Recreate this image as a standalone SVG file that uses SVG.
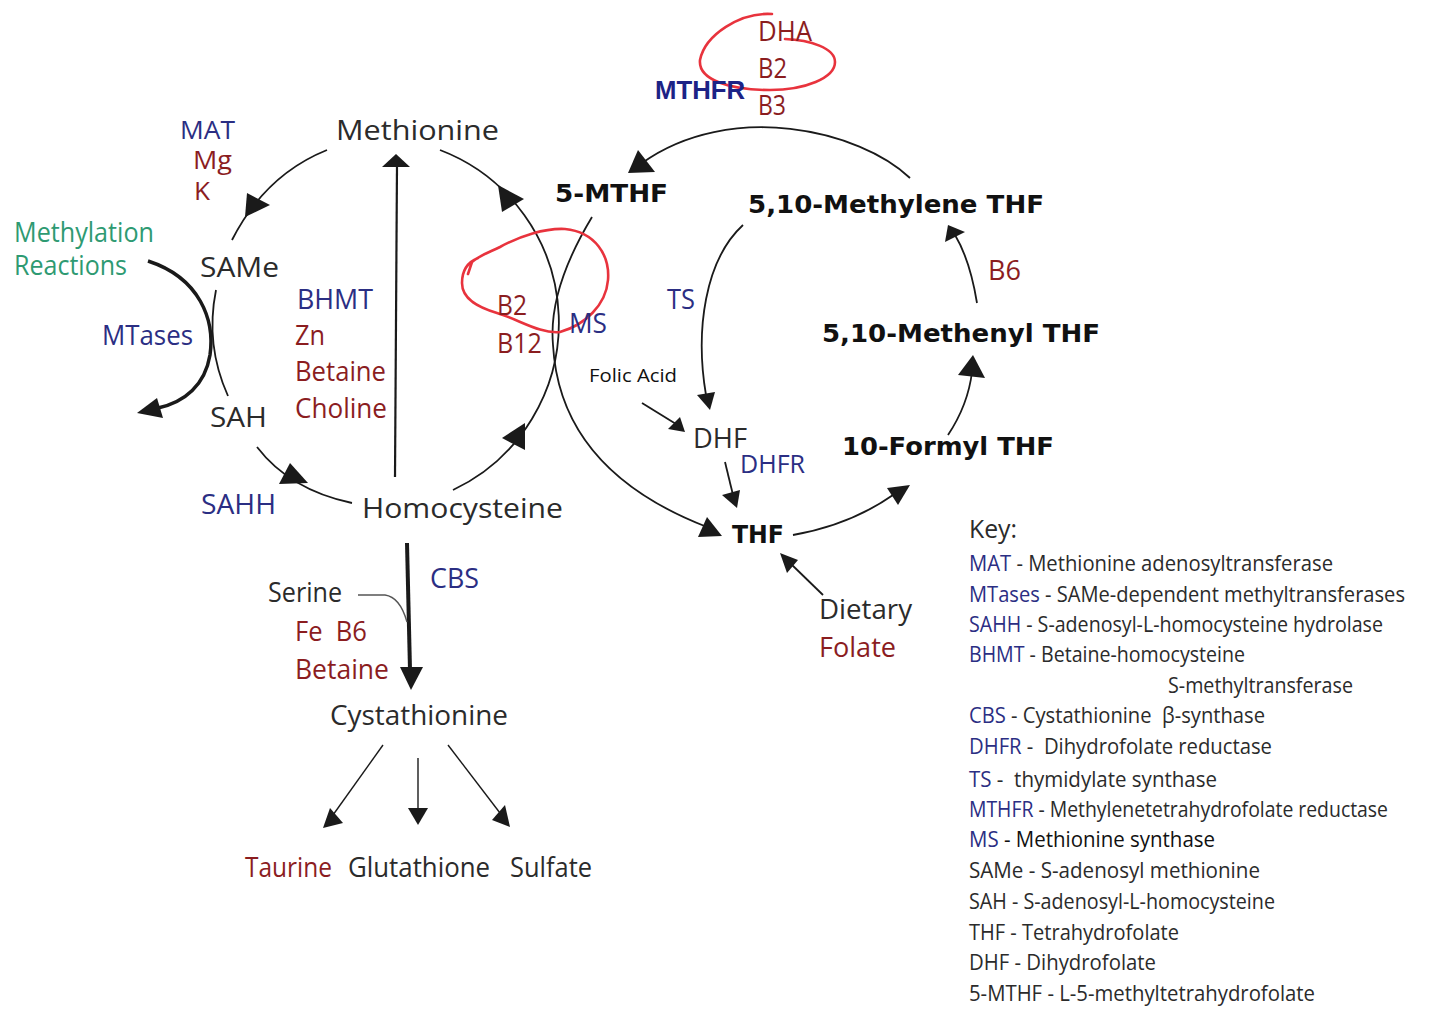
<svg xmlns="http://www.w3.org/2000/svg" width="1431" height="1022" viewBox="0 0 1431 1022">
<style>
text{font-family:"Open Sans","DejaVu Sans",sans-serif;}
.r{font-size:28px;fill:#2b2b2b}
.s{font-size:27px}
.m{font-size:25px}
.b{font-family:"DejaVu Sans",Verdana,sans-serif;font-weight:bold;font-size:25px;fill:#111}
.enz{fill:#2b2e83}
.cof{fill:#8b1d1f}
.grn{fill:#2e9a72}
.k{font-size:22px;fill:#2b2b2b}
.ln{fill:none;stroke:#1a1a1a;stroke-width:1.8}
.ah{fill:#1a1a1a}
.red{fill:none;stroke:#e8333d;stroke-width:2.6;stroke-linecap:round;stroke-linejoin:round}
</style>
<rect width="1431" height="1022" fill="#ffffff"/>

<g id="connectors">
  <path class="ln" d="M327,150 Q265,175 232,240"/>
  <polygon class="ah" points="245,217 247,193 270,205"/>
  <path class="ln" d="M216,290 Q205,345 228,396"/>
  <path class="ln" style="stroke-width:3.5" d="M148,261 C200,278 215,320 210,355 C205,385 185,402 158,408"/>
  <polygon class="ah" points="137,413 157,398 163,418"/>
  <path class="ln" d="M257,447 Q290,490 352,503"/>
  <polygon class="ah" points="290,463 279,484 308,483"/>
  <path class="ln" d="M440,150 A185,185 0 0 1 453,490"/>
  <polygon class="ah" points="498,185 502,212 524,199"/>
  <polygon class="ah" points="525,423 525,450 502,438"/>
  <path class="ln" style="stroke-width:2.2" d="M395,477 L397,165"/>
  <polygon class="ah" points="396,154 382,167 410,167"/>
  <path class="ln" d="M592,217 Q548,290 553,345 Q560,470 707,527"/>
  <polygon class="ah" points="707,517 698,537 722,536"/>
  <path class="ln" d="M910,178 C860,130 730,100 642,163"/>
  <polygon class="ah" points="638,150 628,173 655,172"/>
  <path class="ln" d="M743,225 C705,260 695,330 706,395"/>
  <polygon class="ah" points="697,395 715,392 710,410"/>
  <path class="ln" d="M642,403 L676,424"/>
  <polygon class="ah" points="680,417 668,429 685,432"/>
  <path class="ln" d="M725,462 L733,495"/>
  <polygon class="ah" points="722,495 740,490 737,508"/>
  <path class="ln" d="M793,535 Q850,525 893,495"/>
  <polygon class="ah" points="887,488 910,485 898,505"/>
  <path class="ln" d="M948,435 Q968,405 972,372"/>
  <polygon class="ah" points="973,355 958,375 985,378"/>
  <path class="ln" d="M977,303 Q970,260 955,235"/>
  <polygon class="ah" points="948,225 945,242 965,232"/>
  <path class="ln" d="M823,595 L790,563"/>
  <polygon class="ah" points="780,553 798,560 787,573"/>
  <path class="ln" style="stroke-width:4" d="M407,543 L410,670"/>
  <polygon class="ah" points="400,667 423,667 411,690"/>
  <path class="ln" style="stroke-width:1.4;stroke:#555" d="M358,595 L385,595 Q400,597 407,622"/>
  <path class="ln" style="stroke-width:1.4" d="M383,745 L333,815"/>
  <polygon class="ah" points="323,828 330,808 343,823"/>
  <path class="ln" style="stroke-width:1.4" d="M418,758 L418,810"/>
  <polygon class="ah" points="408,808 428,808 418,825"/>
  <path class="ln" style="stroke-width:1.4" d="M448,745 L500,813"/>
  <polygon class="ah" points="510,827 492,820 505,805"/>
</g>

<g id="annotations">
  <path class="red" d="M772,14 C740,12 705,35 700,60 C698,80 730,90 770,90 C805,90 835,78 835,62 C835,48 810,40 785,39"/>
  <path class="red" d="M468,274 L472,262 C480,255 490,252 500,247 C520,236 545,228 565,229 C595,232 610,255 608,280 C606,305 585,325 560,332 C540,334 520,320 497,313 C480,308 462,300 462,283 C462,270 468,262 478,258"/>
</g>

<g id="node-methionine"><text class="r" x="336" y="140" textLength="163" lengthAdjust="spacingAndGlyphs">Methionine</text></g>
<g id="node-same"><text class="r" x="200" y="277" textLength="79" lengthAdjust="spacingAndGlyphs">SAMe</text></g>
<g id="node-sah"><text class="r" x="210" y="427" textLength="57" lengthAdjust="spacingAndGlyphs">SAH</text></g>
<g id="node-homocysteine"><text class="r" x="362" y="518" textLength="201" lengthAdjust="spacingAndGlyphs">Homocysteine</text></g>
<g id="node-cystathionine"><text class="r" x="330" y="725" textLength="178" lengthAdjust="spacingAndGlyphs">Cystathionine</text></g>
<g id="node-serine"><text class="r" x="268" y="602" textLength="74" lengthAdjust="spacingAndGlyphs">Serine</text></g>
<g id="node-taurine"><text class="r cof" x="245" y="877" textLength="87" lengthAdjust="spacingAndGlyphs">Taurine</text></g>
<g id="node-glutathione"><text class="r" x="348" y="877" textLength="142" lengthAdjust="spacingAndGlyphs">Glutathione</text></g>
<g id="node-sulfate"><text class="r" x="510" y="877" textLength="82" lengthAdjust="spacingAndGlyphs">Sulfate</text></g>
<g id="node-dhf"><text class="r" x="693" y="448" textLength="54" lengthAdjust="spacingAndGlyphs">DHF</text></g>
<g id="node-dietary-folate">
  <text class="r" x="819" y="619" textLength="93" lengthAdjust="spacingAndGlyphs">Dietary</text>
  <text class="r cof" x="819" y="657" textLength="77" lengthAdjust="spacingAndGlyphs">Folate</text>
</g>
<g id="node-folic-acid"><text class="r" style="font-size:19px;fill:#111" x="589" y="382" textLength="88" lengthAdjust="spacingAndGlyphs">Folic Acid</text></g>
<g id="node-methylation"><text class="s grn" x="14" y="242" textLength="140" lengthAdjust="spacingAndGlyphs">Methylation</text><text class="s grn" x="14" y="275" textLength="113" lengthAdjust="spacingAndGlyphs">Reactions</text></g>

<g id="node-5mthf"><text class="b" x="555" y="202" textLength="113" lengthAdjust="spacingAndGlyphs">5-MTHF</text></g>
<g id="node-methylene-thf"><text class="b" x="748" y="213" textLength="296" lengthAdjust="spacingAndGlyphs">5,10-Methylene THF</text></g>
<g id="node-methenyl-thf"><text class="b" x="822" y="342" textLength="278" lengthAdjust="spacingAndGlyphs">5,10-Methenyl THF</text></g>
<g id="node-formyl-thf"><text class="b" x="842" y="455" textLength="212" lengthAdjust="spacingAndGlyphs">10-Formyl THF</text></g>
<g id="node-thf"><text class="b" x="732" y="543" textLength="52" lengthAdjust="spacingAndGlyphs">THF</text></g>

<g id="label-mat">
  <text class="m enz" x="180" y="139" textLength="55" lengthAdjust="spacingAndGlyphs">MAT</text>
  <text class="m cof" x="193" y="169" textLength="39" lengthAdjust="spacingAndGlyphs">Mg</text>
  <text class="m cof" x="194" y="200" textLength="16" lengthAdjust="spacingAndGlyphs">K</text>
</g>
<g id="label-mtases"><text class="s enz" x="102" y="345" textLength="91" lengthAdjust="spacingAndGlyphs">MTases</text></g>
<g id="label-bhmt">
  <text class="s enz" x="297" y="309" textLength="76" lengthAdjust="spacingAndGlyphs">BHMT</text>
  <text class="s cof" x="295" y="345" textLength="30" lengthAdjust="spacingAndGlyphs">Zn</text>
  <text class="s cof" x="295" y="381" textLength="91" lengthAdjust="spacingAndGlyphs">Betaine</text>
  <text class="s cof" x="295" y="418" textLength="92" lengthAdjust="spacingAndGlyphs">Choline</text>
</g>
<g id="label-sahh"><text class="s enz" x="201" y="514" textLength="75" lengthAdjust="spacingAndGlyphs">SAHH</text></g>
<g id="label-cbs">
  <text class="s enz" x="430" y="588" textLength="49" lengthAdjust="spacingAndGlyphs">CBS</text>
  <text class="s cof" x="295" y="641" textLength="72" lengthAdjust="spacingAndGlyphs" xml:space="preserve">Fe  B6</text>
  <text class="s cof" x="295" y="679" textLength="94" lengthAdjust="spacingAndGlyphs">Betaine</text>
</g>
<g id="label-ms">
  <text class="s cof" x="497" y="315" textLength="30" lengthAdjust="spacingAndGlyphs">B2</text>
  <text class="s cof" x="497" y="353" textLength="45" lengthAdjust="spacingAndGlyphs">B12</text>
  <text class="s enz" x="569" y="333" textLength="38" lengthAdjust="spacingAndGlyphs">MS</text>
</g>
<g id="label-ts"><text class="s enz" x="667" y="309" textLength="28" lengthAdjust="spacingAndGlyphs">TS</text></g>
<g id="label-dhfr"><text class="enz" style="font-size:25px" x="740" y="473" textLength="65" lengthAdjust="spacingAndGlyphs">DHFR</text></g>
<g id="label-mthfr">
  <text style="font-family:'Liberation Sans',Arial,sans-serif;font-weight:bold;font-size:26px;fill:#1c2386" x="655" y="99" textLength="90" lengthAdjust="spacingAndGlyphs">MTHFR</text>
  <text class="cof" style="font-size:28px" x="758" y="41" textLength="54" lengthAdjust="spacingAndGlyphs">DHA</text>
  <text class="cof" style="font-size:28px" x="758" y="78" textLength="29" lengthAdjust="spacingAndGlyphs">B2</text>
  <text class="cof" style="font-size:28px" x="758" y="115" textLength="28" lengthAdjust="spacingAndGlyphs">B3</text>
</g>
<g id="label-b6"><text class="s cof" x="988" y="280" textLength="33" lengthAdjust="spacingAndGlyphs">B6</text></g>

<g id="key">
  <text class="k" style="font-size:25px" x="969" y="538" textLength="48" lengthAdjust="spacingAndGlyphs">Key:</text>
  <text class="k" x="969" y="571" textLength="364" lengthAdjust="spacingAndGlyphs"><tspan class="enz">MAT</tspan> - Methionine adenosyltransferase</text>
  <text class="k" x="969" y="602" textLength="436" lengthAdjust="spacingAndGlyphs"><tspan class="enz">MTases</tspan> - SAMe-dependent methyltransferases</text>
  <text class="k" x="969" y="632" textLength="414" lengthAdjust="spacingAndGlyphs"><tspan class="enz">SAHH</tspan> - S-adenosyl-L-homocysteine hydrolase</text>
  <text class="k" x="969" y="662" textLength="276" lengthAdjust="spacingAndGlyphs"><tspan class="enz">BHMT</tspan> - Betaine-homocysteine</text>
  <text class="k" x="1168" y="693" textLength="185" lengthAdjust="spacingAndGlyphs">S-methyltransferase</text>
  <text class="k" x="969" y="723" textLength="296" lengthAdjust="spacingAndGlyphs" xml:space="preserve"><tspan class="enz">CBS</tspan> - Cystathionine  β-synthase</text>
  <text class="k" x="969" y="754" textLength="303" lengthAdjust="spacingAndGlyphs" xml:space="preserve"><tspan class="enz">DHFR</tspan> -  Dihydrofolate reductase</text>
  <text class="k" x="969" y="787" textLength="248" lengthAdjust="spacingAndGlyphs" xml:space="preserve"><tspan class="enz">TS</tspan> -  thymidylate synthase</text>
  <text class="k" x="969" y="817" textLength="419" lengthAdjust="spacingAndGlyphs"><tspan class="enz">MTHFR</tspan> - Methylenetetrahydrofolate reductase</text>
  <text class="k" x="969" y="847" textLength="246" lengthAdjust="spacingAndGlyphs"><tspan class="enz">MS</tspan><tspan style="fill:#111"> - Methionine synthase</tspan></text>
  <text class="k" x="969" y="878" textLength="291" lengthAdjust="spacingAndGlyphs">SAMe - S-adenosyl methionine</text>
  <text class="k" x="969" y="909" textLength="306" lengthAdjust="spacingAndGlyphs">SAH - S-adenosyl-L-homocysteine</text>
  <text class="k" x="969" y="940" textLength="210" lengthAdjust="spacingAndGlyphs">THF - Tetrahydrofolate</text>
  <text class="k" x="969" y="970" textLength="187" lengthAdjust="spacingAndGlyphs">DHF - Dihydrofolate</text>
  <text class="k" x="969" y="1001" textLength="346" lengthAdjust="spacingAndGlyphs">5-MTHF - L-5-methyltetrahydrofolate</text>
</g>
</svg>
